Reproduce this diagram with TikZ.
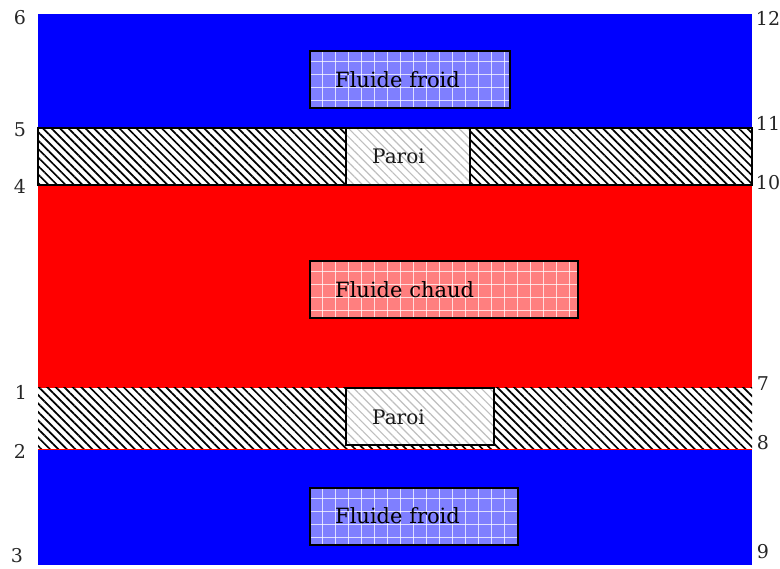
\documentclass[tikz,border=0pt]{standalone}
\usepackage{fontspec}
\setmainfont{DejaVu Serif}
\usetikzlibrary{patterns.meta}
\definecolor{lblue}{HTML}{7F7FFF}
\definecolor{lred}{HTML}{FF7F7F}
\tikzset{
  lbl/.style={font=\fontsize{19}{19}\selectfont, text=black!85, inner sep=0pt},
  ftext/.style={font=\fontsize{21}{21}\selectfont, text=black, inner sep=0pt, anchor=west},
  txt/.style={font=\fontsize{20}{20}\selectfont, text=black!90, inner sep=0pt, anchor=west},
  hatch/.style={pattern={Lines[angle=-45,distance=6pt,line width=1.7pt]}, pattern color=black},
  lhatch/.style={pattern={Lines[angle=-45,distance=6pt,line width=1.2pt]}, pattern color=black!25},
  frame/.style={draw=black, line width=2.6pt},
  gridline/.style={white, line width=0.9pt, opacity=0.75},
}
\begin{document}
\begin{tikzpicture}[x=1pt,y=-1pt]
\useasboundingbox (0,0) rectangle (780,569);
\fill[white] (0,0) rectangle (780,569);
% fluid bands
\fill[blue] (38,14) rectangle (752,128);
\fill[red] (38,185) rectangle (752,388);
\fill[blue] (38,450) rectangle (752,565);
% top wall
\fill[white] (38,128) rectangle (752,185);
\path[hatch] (38,128) rectangle (752,185);
\draw[frame] (38,128) rectangle (752,185);
\fill[white] (346,128) rectangle (470,185);
\path[lhatch] (346,128) rectangle (470,185);
\draw[frame] (346,128) rectangle (470,185);
\node[txt] (p1) at (372,156) {Paroi};
% bottom wall
\fill[white] (38,388) rectangle (752,450);
\path[hatch] (38,388) rectangle (752,450);
\draw[red, line width=1pt] (38,450) -- (752,450);
\fill[white] (346,388) rectangle (494,445);
\path[lhatch] (346,388) rectangle (494,445);
\draw[frame] (346,388) rectangle (494,445);
\node[txt] (p2) at (372,417) {Paroi};
% fluid boxes
\foreach \xa/\ya/\xb/\yb/\c in {310/51/510/108/lblue, 310/261/578/318/lred, 310/488/518/545/lblue}{
  \fill[\c] (\xa,\ya) rectangle (\xb,\yb);
  \begin{scope}
    \clip (\xa,\ya) rectangle (\xb,\yb);
    \foreach \gx in {0,13,...,280} \draw[gridline] (\xa+\gx+12,\ya) -- (\xa+\gx+12,\yb);
    \foreach \gy in {0,13,...,60} \draw[gridline] (\xa,\ya+\gy+10) -- (\xb,\ya+\gy+10);
  \end{scope}
  \draw[frame] (\xa,\ya) rectangle (\xb,\yb);
}
\node[ftext] (f1) at (335,80) {Fluide froid};
\node[ftext] (f2) at (335,290) {Fluide chaud};
\node[ftext] (f3) at (335,516) {Fluide froid};
% labels
\node[lbl] (n6) at (20,18) {6};
\node[lbl] (n5) at (20,130) {5};
\node[lbl] (n4) at (20,186) {4};
\node[lbl] (n1) at (21,392) {1};
\node[lbl] (n2) at (20,451) {2};
\node[lbl] (n3) at (17,556) {3};
\node[lbl] (n12) at (768,18) {12};
\node[lbl] (n11) at (768,123) {11};
\node[lbl] (n10) at (768,183) {10};
\node[lbl] (n7) at (763,384) {7};
\node[lbl] (n8) at (763,443) {8};
\node[lbl] (n9) at (763,552) {9};
\end{tikzpicture}
\end{document}
